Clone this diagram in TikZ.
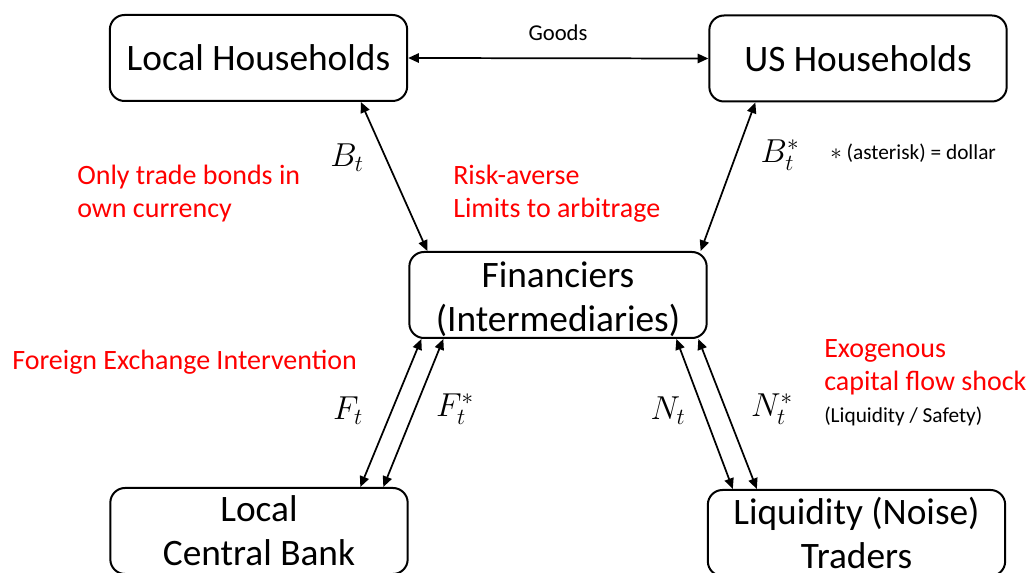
\documentclass[tikz,border=0pt]{standalone}
\usepackage{fontspec}
\setmainfont{Carlito}
\usetikzlibrary{arrows.meta,calc}
\begin{document}
\begin{tikzpicture}[x=0.75pt,y=-0.75pt,
  agent/.style={draw=black, line width=1.5pt, rounded corners=11pt, minimum width=223pt, minimum height=64.5pt, inner sep=0pt, align=center, font=\fontsize{28}{33}\selectfont},
  link/.style={line width=1.3pt, {Triangle[length=8pt,width=7pt]}-{Triangle[length=8pt,width=7pt]}},
  note/.style={text=red, inner sep=0pt, anchor=west, align=left, font=\fontsize{21}{25}\selectfont},
  small/.style={inner sep=0pt, font=\fontsize{16}{19}\selectfont},
  sym/.style={inner sep=0pt, font=\fontsize{27}{30}\selectfont}]
\useasboundingbox (0,0) rectangle (1032,573);
\clip (0,0) rectangle (1032,573);
\fill[white] (0,0) rectangle (1032,573);
% boxes
\node[agent] (lh) at (258.5,58) {Local Households};
\node[agent] (us) at (858,58.5) {US Households};
\node[agent] (fin) at (558,295) {\rule{0pt}{25pt}Financiers\\(Intermediaries)};
\node[agent] (cb) at (259,531) {Local\\Central Bank};
\node[agent] (liq) at (856.5,533) {Liquidity (Noise)\\Traders};
% connectors
\draw[link] (lh.east) -- (us.west);
\draw[link] ($(lh.south west)+(252,0)$) -- ($(fin.north west)+(19,0)$);
\draw[link] ($(us.south west)+(47,0)$) -- ($(fin.north east)+(-7,0)$);
\draw[link] ($(fin.south west)+(13,0)$) -- ($(cb.north west)+(251,0)$);
\draw[link] ($(fin.south west)+(35,0)$) -- ($(cb.north west)+(274,0)$);
\draw[link] ($(fin.south west)+(268,0)$) -- ($(liq.north west)+(26,0)$);
\draw[link] ($(fin.south west)+(290,0)$) -- ($(liq.north west)+(50,0)$);
% labels
\node[small, font=\fontsize{17}{20}\selectfont] (goods) at (558,33) {Goods};
\node[sym] (bt) at (347,158) {$B_t$};
\node[sym] (bts) at (780,155) {$B_t^*$};
\node[sym] (ft) at (348,411) {$F_t$};
\node[sym] (fts) at (455,409) {$F_t^*$};
\node[sym] (nt) at (668,411) {$N_t$};
\node[sym] (nts) at (772,409) {$N_t^*$};
\node[small, anchor=west] (ast) at (830,153) {$*$ (asterisk) = dollar};
\node[note] (n1) at (77,193.5) {Only trade bonds in\\own currency};
\node[note] (n2) at (453,193.5) {Risk-averse\\Limits to arbitrage};
\node[note] (n3) at (12,362) {Foreign Exchange Intervention};
\node[note] (n4) at (824,367.5) {Exogenous\\capital flow shock};
\node[small, anchor=west] (n5) at (824,416) {(Liquidity / Safety)};
\end{tikzpicture}
\end{document}
